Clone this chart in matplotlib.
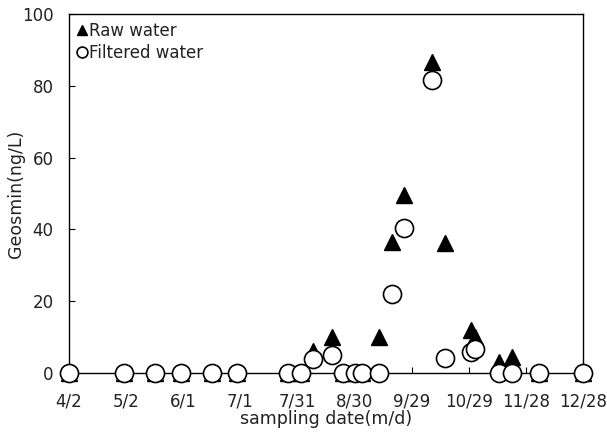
import matplotlib.pyplot as plt

# sampling days counted from 4/2
days = [0, 29, 45, 59, 75, 88, 115, 122, 128, 138, 144, 150, 154, 163,
        169.5, 176, 190.5, 197.5, 211, 213, 226, 232.5, 247, 270]
raw = [0, 0, 0, 0, 0, 0, 0, 0, 6, 10, 0, 0, 0, 10,
       36.5, 49.5, 86.6, 36.3, 12, 10, 3, 4.5, 0, 0]
filtered = [0, 0, 0, 0, 0, 0, 0, 0, 4, 5, 0, 0, 0, 0,
            22, 40.5, 81.6, 4.2, 5.8, 6.7, 0, 0, 0, 0]

tick_days = [0, 30, 60, 90, 120, 150, 180, 210, 240, 270]
tick_labels = ['4/2', '5/2', '6/1', '7/1', '7/31', '8/30', '9/29', '10/29', '11/28', '12/28']

plt.rcParams['font.family'] = ['DejaVu Sans']

fig = plt.figure(figsize=(6.07, 4.34), dpi=100)
ax = fig.add_axes([0.1137, 0.1406, 0.8468, 0.8271])

ax.plot(days, raw, '^', color='black', markersize=12, clip_on=False,
        label='Raw water', zorder=3)
ax.plot(days, filtered, 'o', mfc='white', mec='black', mew=1.2,
        markersize=13, clip_on=False, label='Filtered water', zorder=4)

ax.set_xlim(0, 270)
ax.set_ylim(0, 100)
ax.set_xticks(tick_days)
ax.set_xticklabels(tick_labels)
ax.set_yticks([0, 20, 40, 60, 80, 100])
ax.tick_params(direction='in', length=4, labelsize=12, colors='black',
               labelcolor='#222222')
ax.tick_params(axis='y', pad=11)
ax.tick_params(axis='x', pad=14)

for s in ax.spines.values():
    s.set_linewidth(1.0)

ax.set_xlabel('sampling date(m/d)', fontsize=12.5, labelpad=0, color='#222222')
ax.set_ylabel('Geosmin(ng/L)', fontsize=12.5, labelpad=-2, color='#222222')

leg = ax.legend(loc='upper left', frameon=False, fontsize=12, markerscale=0.6,
                handlelength=0.6, handletextpad=0.15, labelspacing=0.25,
                borderaxespad=0.15, borderpad=0.3)
for t in leg.get_texts():
    t.set_color('#222222')

fig.savefig('out.png', dpi=100)
